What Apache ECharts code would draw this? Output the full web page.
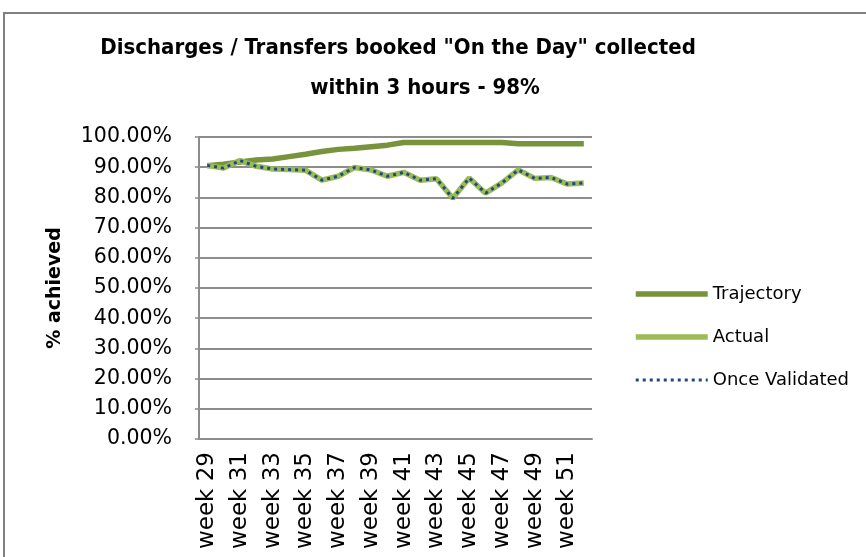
<!DOCTYPE html>
<html>
<head>
<meta charset="utf-8">
<script src="https://cdn.jsdelivr.net/npm/echarts@6/dist/echarts.min.js"></script>
<style>
  html, body { margin: 0; padding: 0; background: #fff; }
  #chart { width: 866px; height: 557px; }
</style>
</head>
<body>
<div id="chart"></div>
<script>
// weeks 29 .. 52
const weeks = ['week 29', 'week 30', 'week 31', 'week 32', 'week 33', 'week 34', 'week 35', 'week 36',
  'week 37', 'week 38', 'week 39', 'week 40', 'week 41', 'week 42', 'week 43', 'week 44',
  'week 45', 'week 46', 'week 47', 'week 48', 'week 49', 'week 50', 'week 51', 'week 52']
const trajectory = [90.5, 91.0, 91.7, 92.4, 92.7, 93.5, 94.3, 95.2, 95.9, 96.3, 96.8, 97.3,
  98.2, 98.2, 98.2, 98.2, 98.2, 98.2, 98.2, 97.8, 97.8, 97.8, 97.8, 97.8]
const actual = [90.6, 89.7, 92.2, 90.3, 89.4, 89.2, 89.0, 85.7, 87.0, 89.9, 89.1, 87.0,
  88.3, 85.7, 86.2, 79.7, 86.4, 81.4, 84.8, 89.1, 86.3, 86.6, 84.4, 84.8]
const onceValidated = [90.6, 89.7, 92.2, 90.3, 89.4, 89.2, 89.0, 85.7, 87.0, 89.9, 89.1, 87.0,
  88.3, 85.7, 86.2, 79.7, 86.4, 81.4, 84.8, 89.1, 86.3, 86.6, 84.4, 84.8]

const titleLines = ['Discharges / Transfers booked "On the Day" collected', 'within 3 hours - 98%']
const gridColor = '#8c8c8c'
const titleFont = "bold 22px 'Liberation Sans Narrow', 'DejaVu Sans Condensed', sans-serif"

const trajStyle = { color: '#77933C', width: 5.5 }
const actualStyle = { color: '#9BBB59', width: 5.5 }
const validStyle = { color: '#1F497D', width: 3, type: [3, 4] }

const chart = echarts.init(document.getElementById('chart'))

const option = {
  backgroundColor: '#fff',
  animation: false,
  graphic: [
    {
      type: 'rect',
      z: -1,
      shape: { x: 4, y: 13, width: 900, height: 600 },
      style: { fill: 'none', stroke: '#808080', lineWidth: 2 },
    },
    {
      type: 'text',
      style: { text: titleLines[0], x: 398, y: 48, align: 'center', verticalAlign: 'middle', font: titleFont, fill: '#000' },
    },
    {
      type: 'text',
      style: { text: titleLines[1], x: 425, y: 88, align: 'center', verticalAlign: 'middle', font: titleFont, fill: '#000' },
    },
  ],
  legend: {
    orient: 'vertical',
    left: 628,
    top: 280,
    itemWidth: 72,
    itemHeight: 20,
    itemGap: 25,
    itemStyle: { opacity: 0 },
    textStyle: { fontFamily: 'DejaVu Sans', fontSize: 18, color: '#000' },
    data: [
      { name: 'Trajectory', lineStyle: trajStyle },
      { name: 'Actual', lineStyle: actualStyle },
      { name: 'Once Validated', lineStyle: validStyle },
    ],
  },
  grid: { left: 199, right: 274, top: 137, bottom: 118 },
  xAxis: {
    type: 'category',
    boundaryGap: true,
    data: weeks,
    axisLine: { lineStyle: { color: gridColor, width: 2 } },
    axisTick: { show: false },
    axisLabel: {
      interval: 1,
      rotate: 90,
      margin: 13,
      fontFamily: 'DejaVu Sans',
      fontSize: 23,
      color: '#000',
    },
  },
  yAxis: {
    type: 'value',
    min: 0,
    max: 100,
    interval: 10,
    name: '% achieved',
    nameLocation: 'middle',
    nameRotate: 90,
    nameGap: 134,
    nameTextStyle: { fontFamily: 'DejaVu Sans', fontWeight: 'bold', fontSize: 19, color: '#000' },
    axisLine: { show: true, lineStyle: { color: gridColor, width: 2 } },
    axisTick: { show: true, length: 4, lineStyle: { color: gridColor, width: 1.5 } },
    splitLine: { lineStyle: { color: gridColor, width: 2 } },
    axisLabel: {
      margin: 27,
      formatter: (v) => v.toFixed(2) + '%',
      fontFamily: 'DejaVu Sans',
      fontSize: 20.5,
      color: '#000',
    },
  },
  series: [
    {
      name: 'Trajectory',
      type: 'line',
      data: trajectory,
      symbol: 'none',
      itemStyle: { color: trajStyle.color },
      lineStyle: trajStyle,
    },
    {
      name: 'Actual',
      type: 'line',
      data: actual,
      symbol: 'none',
      itemStyle: { color: actualStyle.color },
      lineStyle: actualStyle,
    },
    {
      name: 'Once Validated',
      type: 'line',
      data: onceValidated,
      symbol: 'none',
      itemStyle: { color: validStyle.color },
      lineStyle: validStyle,
    },
  ],
}

chart.setOption(option)
</script>
</body>
</html>
